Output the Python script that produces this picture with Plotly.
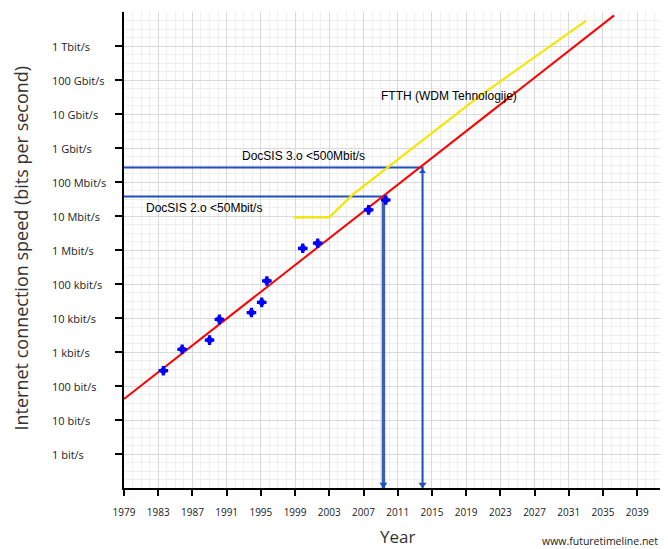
import plotly.graph_objects as go

# ---- data (speeds stored as log10 of bits per second) ----
year_ticks = list(range(1979, 2040, 4))
speed_tick_exp = list(range(0, 13))
speed_tick_labels = ["1 bit/s", "10 bit/s", "100 bit/s", "1 kbit/s", "10 kbit/s", "100 kbit/s",
                     "1 Mbit/s", "10 Mbit/s", "100 Mbit/s", "1 Gbit/s", "10 Gbit/s",
                     "100 Gbit/s", "1 Tbit/s"]

point_years = [1983.6, 1985.8, 1989.0, 1990.15, 1993.9, 1995.1, 1995.7, 1999.9, 2001.65, 2007.6, 2009.6]
point_log10 = [2.45, 3.08, 3.35, 3.96, 4.16, 4.46, 5.09, 6.05, 6.20, 7.18, 7.47]

trend_years = [1979.0, 2036.3]
trend_log10 = [1.62, 12.9]

ftth_years = [1998.8, 2003.0, 2005.7, 2009.7, 2020.6, 2033.0]
ftth_log10 = [6.96, 6.96, 7.62, 8.40, 10.53, 12.74]

docsis2_year, docsis2_log10 = 2009.33, 7.57
docsis3_year, docsis3_log10 = 2013.9, 8.43

x_min, x_max = 1979, 2042.6
y_min, y_max = -1, 13

PW, PH = 544, 476  # plot area size in px

fig = go.Figure()

# DocSIS guide lines
fig.add_trace(go.Scatter(x=[x_min, docsis3_year, docsis3_year], y=[docsis3_log10, docsis3_log10, y_min],
                         mode="lines", line=dict(color="#1f4fbf", width=2), hoverinfo="skip"))
fig.add_trace(go.Scatter(x=[x_min, docsis2_year], y=[docsis2_log10, docsis2_log10],
                         mode="lines", line=dict(color="#1f4fbf", width=2), hoverinfo="skip"))
fig.add_trace(go.Scatter(x=[docsis2_year, docsis2_year], y=[docsis2_log10, y_min],
                         mode="lines", line=dict(color="#3b5fb8", width=3.5), hoverinfo="skip"))
# arrow heads
fig.add_trace(go.Scatter(x=[docsis2_year, docsis3_year], y=[y_min + 0.1, y_min + 0.1],
                         mode="markers", marker=dict(symbol="triangle-down", size=7, color="#1f4fbf"),
                         hoverinfo="skip"))
fig.add_trace(go.Scatter(x=[docsis3_year], y=[docsis3_log10 - 0.12],
                         mode="markers", marker=dict(symbol="triangle-up", size=6, color="#1f4fbf"),
                         hoverinfo="skip"))

# FTTH (yellow)
fig.add_trace(go.Scatter(x=ftth_years, y=ftth_log10, mode="lines",
                         line=dict(color="#f5e600", width=2.2), hoverinfo="skip"))
# trend (red)
fig.add_trace(go.Scatter(x=trend_years, y=trend_log10, mode="lines",
                         line=dict(color="#ff0000", width=2), hoverinfo="skip"))
# data points (rounded plus-shaped blobs)
fig.add_trace(go.Scatter(x=point_years, y=point_log10, mode="markers",
                         marker=dict(symbol="cross", size=8, color="#0000ff"), hoverinfo="skip"))
fig.add_trace(go.Scatter(x=point_years, y=point_log10, mode="markers",
                         marker=dict(symbol="diamond", size=7, color="#0000ff"), hoverinfo="skip"))

annotations = []
for v, lab in zip(speed_tick_exp, speed_tick_labels):
    annotations.append(dict(x=(50 - 124) / PW, xref="paper", y=v, yref="y", text=lab,
                            showarrow=False, xanchor="left", yanchor="middle",
                            font=dict(family="Open Sans", size=11, color="#222")))

text_font = dict(family="Liberation Sans, Arial", size=12, color="#000")
annotations += [
    dict(x=2000.0, y=(454 - 156) / 34, xref="x", yref="y", text="DocSIS 3.o <500Mbit/s",
         showarrow=False, font=text_font),
    dict(x=1988.3, y=(454 - 208) / 34, xref="x", yref="y", text="DocSIS 2.o <50Mbit/s",
         showarrow=False, font=text_font),
    dict(x=2017.0, y=(454 - 95.5) / 34, xref="x", yref="y", text="FTTH (WDM Tehnologije)",
         showarrow=False, font=text_font),
    dict(x=(20.5 - 124) / PW, y=(488 - 248) / PH, xref="paper", yref="paper",
         text="Internet connection speed (bits per second)", textangle=-90, showarrow=False,
         font=dict(family="Open Sans", size=18, color="#333"), xanchor="center", yanchor="middle"),
    dict(x=(397 - 124) / PW, y=-(536 - 488) / PH, xref="paper", yref="paper", text="Year",
         showarrow=False, font=dict(family="Open Sans", size=17, color="#333"),
         xanchor="center", yanchor="middle"),
    dict(x=(660 - 124) / PW, y=-(541 - 488) / PH, xref="paper", yref="paper",
         text="www.futuretimeline.net", showarrow=False,
         font=dict(family="Open Sans", size=10.5, color="#222"), xanchor="right", yanchor="middle"),
]

# page has an 8px body margin, so the figure is 8px smaller and offset accordingly
fig.update_layout(
    width=660, height=541, autosize=False,
    margin=dict(l=116, r=0, t=4, b=61),
    paper_bgcolor="white", plot_bgcolor="white",
    showlegend=False,
    annotations=annotations,
    xaxis=dict(range=[x_min, x_max], tickvals=year_ticks, ticks="outside", ticklen=6,
               tickwidth=2, tickcolor="#000", showline=True, linecolor="#000", linewidth=2,
               showgrid=True, gridcolor="#d9d9d9", gridwidth=1, zeroline=False,
               minor=dict(dtick=1, tick0=1979, showgrid=True, gridcolor="#eeeeee", gridwidth=1),
               tickfont=dict(family="Open Sans", size=10, color="#222"), ticklabelstandoff=8,
               fixedrange=True),
    yaxis=dict(range=[y_min, y_max], tickvals=speed_tick_exp, ticks="outside", ticklen=7,
               tickwidth=2, tickcolor="#000", showline=True, linecolor="#000", linewidth=2,
               showticklabels=False, showgrid=True, gridcolor="#d9d9d9", gridwidth=1,
               zeroline=False,
               minor=dict(dtick=0.25, tick0=0, showgrid=True, gridcolor="#eeeeee", gridwidth=1),
               fixedrange=True),
)

fig.write_html("out.html")
